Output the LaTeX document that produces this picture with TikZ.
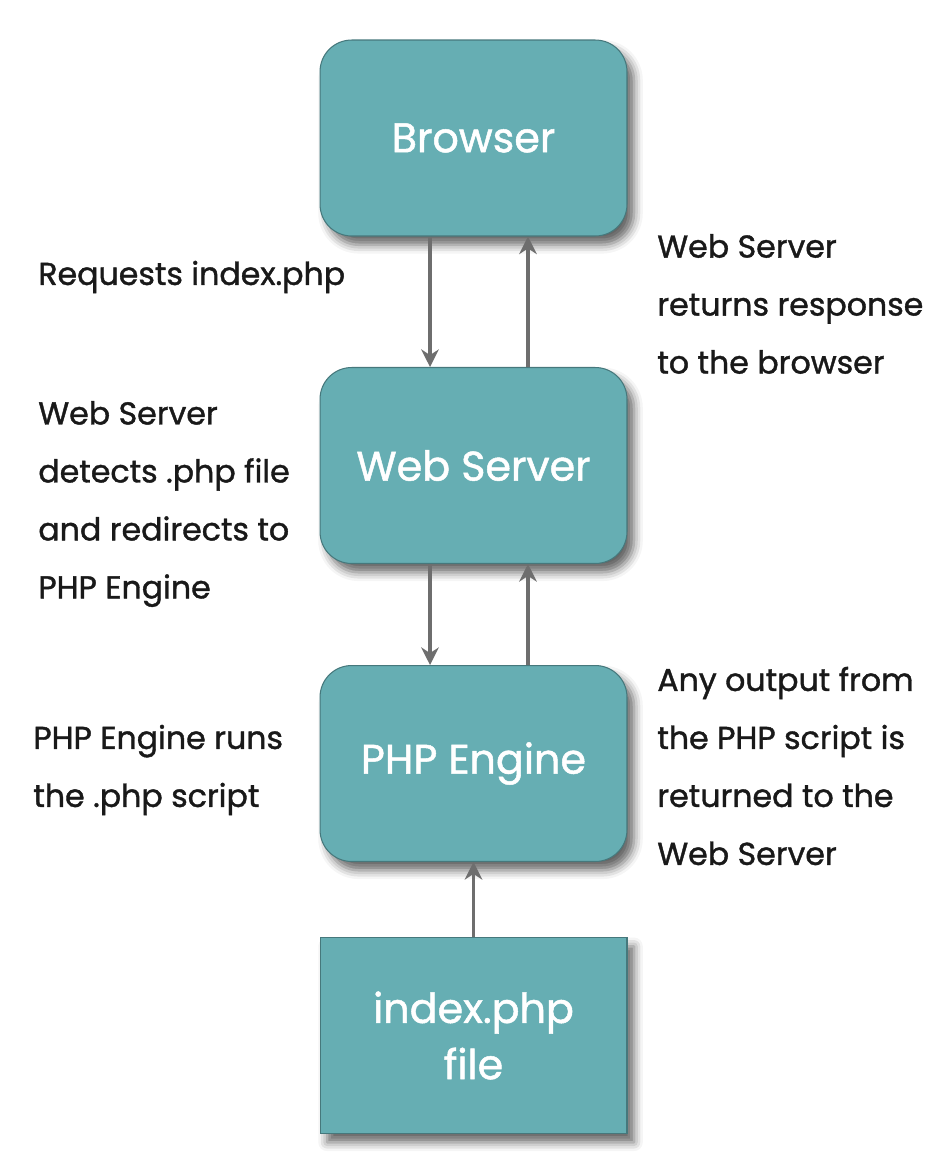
\documentclass[tikz,border=0pt]{standalone}
\usepackage{fontspec}
\setmainfont{Poppins}[FakeBold=1.2]
\usepackage{xcolor}
\usetikzlibrary{positioning,arrows.meta,shadows.blur}

\definecolor{boxteal}{RGB}{102,174,179}
\definecolor{boxedge}{RGB}{70,120,124}
\definecolor{arrgray}{RGB}{110,110,110}
\definecolor{notetext}{RGB}{25,25,25}

\begin{document}
\begin{tikzpicture}[
  x=0.02cm, y=-0.02cm, >=Stealth,
  stage/.style={draw=boxedge, line width=0.6pt, fill=boxteal, rounded corners=18pt,
                text=white, align=center, minimum width=6.14cm, minimum height=3.92cm,
                font=\fontsize{23.5}{32}\selectfont,
                blur shadow={shadow xshift=4pt, shadow yshift=-5pt,
                             shadow blur radius=5pt, shadow opacity=60}},
  filebox/.style={stage, sharp corners},
  note/.style={align=left, anchor=west, inner sep=0pt, text=notetext,
               font=\fontsize{18}{33}\selectfont},
  arr/.style={-{Stealth[length=10pt,width=10pt]}, line width=1.8pt, color=arrgray},
]
\useasboundingbox (0,0) rectangle (946,1170);

\node[stage]   (brw)  at (473.5,138)   {Browser};
\node[stage]   (web)  at (473.5,465.5) {Web Server};
\node[stage]   (php)  at (473.5,763.5) {PHP Engine};
\node[filebox] (file) at (473.5,1035.5) {index.php\\file};

\node[note] (req)  at (38,277)  {Requests index.php};
\node[note] (det)  at (38,504)  {Web Server\\detects .php file\\and redirects to\\PHP Engine};
\node[note] (runs) at (33,770)  {PHP Engine runs\\the .php script};
\node[note] (resp) at (657,304) {Web Server\\returns response\\to the browser};
\node[note] (outp) at (657,766) {Any output from\\the PHP script is\\returned to the\\Web Server};

\draw[arr] ([xshift=-0.87cm]brw.south) -- ([xshift=-0.87cm]web.north);
\draw[arr] ([xshift=1.09cm]web.north)  -- ([xshift=1.09cm]brw.south);
\draw[arr] ([xshift=-0.87cm]web.south) -- ([xshift=-0.87cm]php.north);
\draw[arr] ([xshift=1.09cm]php.north)  -- ([xshift=1.09cm]web.south);
\draw[arr] (file.north) -- (php.south);
\end{tikzpicture}
\end{document}
